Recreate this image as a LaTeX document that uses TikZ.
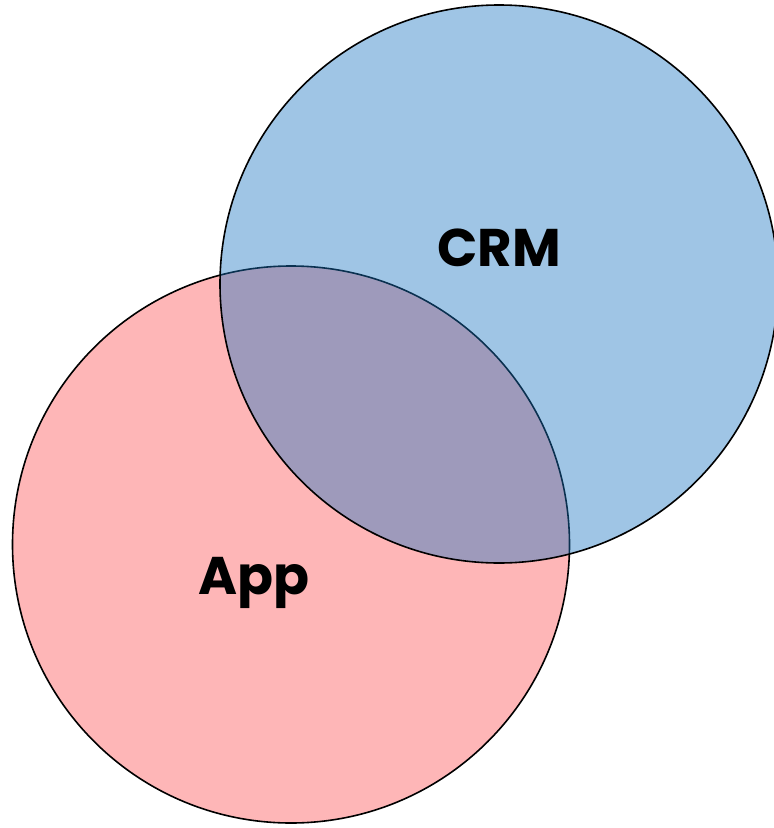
\documentclass[tikz,border=0pt]{standalone}
\usepackage{fontspec}
\setmainfont{Poppins}[BoldFont={* Bold}]
\definecolor{apppink}{RGB}{254,182,183}
\definecolor{crmblue}{RGB}{26,117,193}
\begin{document}
\begin{tikzpicture}[x=1pt,y=-1pt,
  setlabel/.style={font=\fontsize{53}{58}\selectfont\bfseries, anchor=base, inner sep=0pt},
  setoutline/.style={draw=black, line width=1.6pt}]
  \useasboundingbox (0,0) rectangle (774,828);
  \begin{scope}
    \clip (0,0) rectangle (774,828);
    % App set
    \fill[apppink] (291,544.5) circle (278.5);
    \draw[setoutline] (291,544.5) circle (278.5);
    % CRM set, translucent over App
    \fill[crmblue, fill opacity=0.42] (499,284) circle (279);
    \draw[setoutline] (499,284) circle (279);
  \end{scope}
  \node[setlabel] (crm) at (499,266) {CRM};
  \node[setlabel] (app) at (254,594.5) {App};
\end{tikzpicture}
\end{document}
